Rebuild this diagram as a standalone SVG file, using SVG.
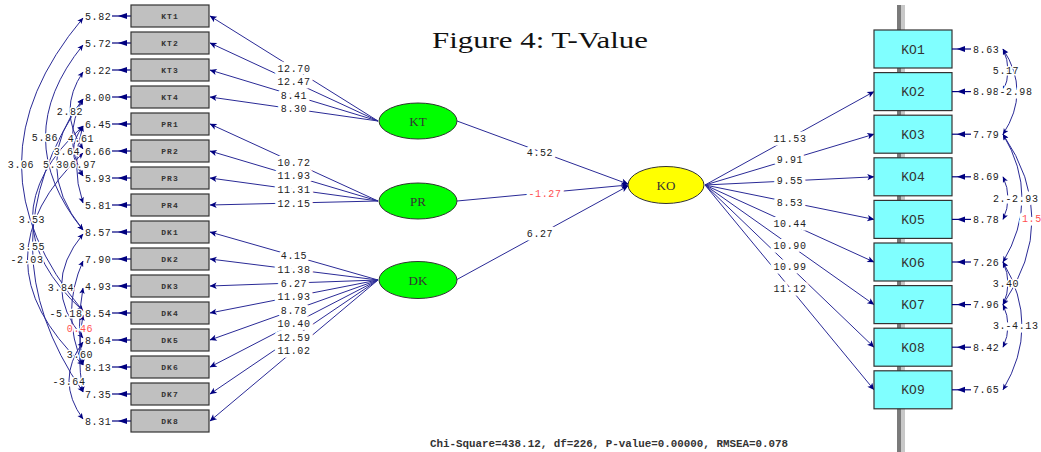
<svg xmlns="http://www.w3.org/2000/svg" width="1041" height="452" viewBox="0 0 1041 452">
  <defs>
    <marker id="arr" viewBox="0 0 10 10" refX="9.5" refY="5" markerWidth="10" markerHeight="7" markerUnits="userSpaceOnUse" orient="auto-start-reverse">
      <path d="M0,0.5 L10,5 L0,9.5 L2.5,5 z" fill="#000080"/>
    </marker>
    <marker id="arrs" viewBox="0 0 10 10" refX="9.5" refY="5" markerWidth="8" markerHeight="6" markerUnits="userSpaceOnUse" orient="auto-start-reverse">
      <path d="M0,0.5 L10,5 L0,9.5 L2.5,5 z" fill="#000080"/>
    </marker>
  </defs>
  <style>
    .bg { fill: #ffffff; }
    .obs rect { fill: #c0c0c0; stroke: #333333; stroke-width: 1.2; }
    .obs text { font-family: "Liberation Mono", monospace; font-size: 8px; font-weight: bold; letter-spacing: 1px; fill: #333333; text-anchor: middle; }
    .ko rect { fill: #80ffff; stroke: #333333; stroke-width: 1.2; }
    .ko text { font-family: "Liberation Mono", monospace; font-size: 13px; fill: #333333; text-anchor: middle; }
    .lat ellipse { stroke: #333333; stroke-width: 1; }
    .lat text { font-family: "Liberation Serif", serif; font-size: 13px; fill: #333333; text-anchor: middle; }
    .path { stroke: #2a2a96; stroke-width: 1; fill: none; }
    .err { stroke: #000080; stroke-width: 1.2; fill: none; }
    .tip { fill: #000080; }
    .num { font-family: "Liberation Mono", monospace; font-size: 10px; letter-spacing: 0.6px; fill: #222222; paint-order: stroke; stroke: #ffffff; stroke-width: 3px; stroke-linejoin: round; }
    .wide { stroke-width: 7px; }
    .mid { text-anchor: middle; }
    .red { fill: #ff5050; }
    .title { font-family: "Liberation Serif", serif; font-size: 24px; fill: #111111; }
    .foot { font-family: "Liberation Mono", monospace; font-size: 10px; font-weight: bold; fill: #333333; }
  </style>

  <rect class="bg" x="0" y="0" width="1041" height="452"/>

  <!-- vertical rail behind the KO indicators -->
  <rect x="897" y="5" width="4" height="447" fill="#7a7a7a"/>
  <rect x="901" y="5" width="4" height="447" fill="#c8c8c8"/>

  <text class="title" x="540" y="48" text-anchor="middle" textLength="216" lengthAdjust="spacingAndGlyphs">Figure 4: T-Value</text>

  <!-- connectors -->
  <g id="connectors">
    <!-- loadings KT -->
    <line class="path" x1="378" y1="121" x2="210" y2="16" marker-end="url(#arr)"/>
    <line class="path" x1="378" y1="121" x2="210" y2="43" marker-end="url(#arr)"/>
    <line class="path" x1="378" y1="121" x2="210" y2="70" marker-end="url(#arr)"/>
    <line class="path" x1="378" y1="121" x2="210" y2="97" marker-end="url(#arr)"/>
    <!-- loadings PR -->
    <line class="path" x1="378" y1="201" x2="210" y2="124" marker-end="url(#arr)"/>
    <line class="path" x1="378" y1="201" x2="210" y2="151" marker-end="url(#arr)"/>
    <line class="path" x1="378" y1="201" x2="210" y2="178" marker-end="url(#arr)"/>
    <line class="path" x1="378" y1="201" x2="210" y2="205" marker-end="url(#arr)"/>
    <!-- loadings DK -->
    <line class="path" x1="378" y1="280" x2="210" y2="232" marker-end="url(#arr)"/>
    <line class="path" x1="378" y1="280" x2="210" y2="259" marker-end="url(#arr)"/>
    <line class="path" x1="378" y1="280" x2="210" y2="286" marker-end="url(#arr)"/>
    <line class="path" x1="378" y1="280" x2="210" y2="313" marker-end="url(#arr)"/>
    <line class="path" x1="378" y1="280" x2="210" y2="340" marker-end="url(#arr)"/>
    <line class="path" x1="378" y1="280" x2="210" y2="367" marker-end="url(#arr)"/>
    <line class="path" x1="378" y1="280" x2="210" y2="394" marker-end="url(#arr)"/>
    <line class="path" x1="378" y1="280" x2="210" y2="421" marker-end="url(#arr)"/>

    <!-- structural paths -->
    <line class="path" x1="457" y1="121" x2="628" y2="184" marker-end="url(#arr)"/>
    <line class="path" x1="457" y1="201" x2="628" y2="185" marker-end="url(#arr)"/>
    <line class="path" x1="456" y1="280" x2="628" y2="186" marker-end="url(#arr)"/>

    <!-- loadings KO -->
    <line class="path" x1="705" y1="185" x2="874" y2="91.6" marker-end="url(#arr)"/>
    <line class="path" x1="705" y1="185" x2="874" y2="134.2" marker-end="url(#arr)"/>
    <line class="path" x1="705" y1="185" x2="874" y2="176.8" marker-end="url(#arr)"/>
    <line class="path" x1="705" y1="185" x2="874" y2="219.4" marker-end="url(#arr)"/>
    <line class="path" x1="705" y1="185" x2="874" y2="262" marker-end="url(#arr)"/>
    <line class="path" x1="705" y1="185" x2="874" y2="304.6" marker-end="url(#arr)"/>
    <line class="path" x1="705" y1="185" x2="874" y2="347.2" marker-end="url(#arr)"/>
    <line class="path" x1="705" y1="185" x2="874" y2="389.8" marker-end="url(#arr)"/>

    <!-- error covariances, left -->
    <path class="path" d="M83,18 Q-40,164.5 83,311" marker-start="url(#arrs)" marker-end="url(#arrs)"/>
    <path class="path" d="M83,45 Q8,137.5 83,230" marker-start="url(#arrs)" marker-end="url(#arrs)"/>
    <path class="path" d="M83,72 Q57,110.5 83,149" marker-start="url(#arrs)" marker-end="url(#arrs)"/>
    <path class="path" d="M83,99 Q62,137.5 83,176" marker-start="url(#arrs)" marker-end="url(#arrs)"/>
    <path class="path" d="M83,126 Q64,151 83,176" marker-start="url(#arrs)" marker-end="url(#arrs)"/>
    <path class="path" d="M83,99 Q30,164.5 83,230" marker-start="url(#arrs)" marker-end="url(#arrs)"/>
    <path class="path" d="M83,126 Q70,164.5 83,203" marker-start="url(#arrs)" marker-end="url(#arrs)"/>
    <path class="path" d="M83,126 Q-18,218.5 83,311" marker-start="url(#arrs)" marker-end="url(#arrs)"/>
    <path class="path" d="M83,99 Q-18,245.5 83,392" marker-start="url(#arrs)" marker-end="url(#arrs)"/>
    <path class="path" d="M83,153 Q-28,259 83,365" marker-start="url(#arrs)" marker-end="url(#arrs)"/>
    <path class="path" d="M83,234 Q40,286 83,338" marker-start="url(#arrs)" marker-end="url(#arrs)"/>
    <path class="path" d="M83,261 Q60,313 83,365" marker-start="url(#arrs)" marker-end="url(#arrs)"/>
    <path class="path" d="M83,288 Q76,326.5 83,365" marker-start="url(#arrs)" marker-end="url(#arrs)"/>
    <path class="path" d="M83,315 Q76,353.5 83,392" marker-start="url(#arrs)" marker-end="url(#arrs)"/>
    <path class="path" d="M83,342 Q55,380.5 83,419" marker-start="url(#arrs)" marker-end="url(#arrs)"/>

    <!-- error covariances, right -->
    <path class="path" d="M1003,49 Q1013,70.3 1003,91.6" marker-start="url(#arrs)" marker-end="url(#arrs)"/>
    <path class="path" d="M1003,49 Q1031,91.6 1003,134.2" marker-start="url(#arrs)" marker-end="url(#arrs)"/>
    <path class="path" d="M1003,176.8 Q1013,198.1 1003,219.4" marker-start="url(#arrs)" marker-end="url(#arrs)"/>
    <path class="path" d="M1003,134.2 Q1041,198.1 1003,262" marker-start="url(#arrs)" marker-end="url(#arrs)"/>
    <path class="path" d="M1003,134.2 Q1061,219.4 1003,304.6" marker-start="url(#arrs)" marker-end="url(#arrs)"/>
    <path class="path" d="M1003,262 Q1013,283.3 1003,304.6" marker-start="url(#arrs)" marker-end="url(#arrs)"/>
    <path class="path" d="M1003,304.6 Q1013,325.9 1003,347.2" marker-start="url(#arrs)" marker-end="url(#arrs)"/>
    <path class="path" d="M1003,262 Q1041,325.9 1003,389.8" marker-start="url(#arrs)" marker-end="url(#arrs)"/>
  </g>

  <!-- error terms, left -->
  <g id="errors-left">
    <g class="err">
      <line x1="112" y1="16" x2="131" y2="16"/><line x1="112" y1="43" x2="131" y2="43"/>
      <line x1="112" y1="70" x2="131" y2="70"/><line x1="112" y1="97" x2="131" y2="97"/>
      <line x1="112" y1="124" x2="131" y2="124"/><line x1="112" y1="151" x2="131" y2="151"/>
      <line x1="112" y1="178" x2="131" y2="178"/><line x1="112" y1="205" x2="131" y2="205"/>
      <line x1="112" y1="232" x2="131" y2="232"/><line x1="112" y1="259" x2="131" y2="259"/>
      <line x1="112" y1="286" x2="131" y2="286"/><line x1="112" y1="313" x2="131" y2="313"/>
      <line x1="112" y1="340" x2="131" y2="340"/><line x1="112" y1="367" x2="131" y2="367"/>
      <line x1="112" y1="394" x2="131" y2="394"/><line x1="112" y1="421" x2="131" y2="421"/>
    </g>
    <g class="tip">
      <path d="M118,16 l9,-3 v6 z"/><path d="M118,43 l9,-3 v6 z"/><path d="M118,70 l9,-3 v6 z"/><path d="M118,97 l9,-3 v6 z"/>
      <path d="M118,124 l9,-3 v6 z"/><path d="M118,151 l9,-3 v6 z"/><path d="M118,178 l9,-3 v6 z"/><path d="M118,205 l9,-3 v6 z"/>
      <path d="M118,232 l9,-3 v6 z"/><path d="M118,259 l9,-3 v6 z"/><path d="M118,286 l9,-3 v6 z"/><path d="M118,313 l9,-3 v6 z"/>
      <path d="M118,340 l9,-3 v6 z"/><path d="M118,367 l9,-3 v6 z"/><path d="M118,394 l9,-3 v6 z"/><path d="M118,421 l9,-3 v6 z"/>
    </g>
    <g class="num">
      <text x="85" y="19.5">5.82</text><text x="85" y="46.5">5.72</text>
      <text x="85" y="73.5">8.22</text><text x="85" y="100.5">8.00</text>
      <text x="85" y="127.5">6.45</text><text x="85" y="154.5">6.66</text>
      <text x="85" y="181.5">5.93</text><text x="85" y="208.5">5.81</text>
      <text x="85" y="235.5">8.57</text><text x="85" y="262.5">7.90</text>
      <text x="85" y="289.5">4.93</text><text x="85" y="316.5">8.54</text>
      <text x="85" y="343.5">8.64</text><text x="85" y="370.5">8.13</text>
      <text x="85" y="397.5">7.35</text><text x="85" y="424.5">8.31</text>
    </g>
  </g>

  <!-- covariance labels, left -->
  <g id="cov-left" class="num">
    <text class="mid" x="70" y="114.5">2.82</text>
    <text class="mid" x="45" y="140.5">5.86</text>
    <text class="mid" x="81" y="141.5">4.61</text>
    <text class="mid" x="67" y="154.5">3.64</text>
    <text class="mid" x="21" y="167.5">3.06</text>
    <text x="43" y="167.5">5.30</text>
    <text x="70" y="167.5">6.97</text>
    <text class="mid" x="32" y="222.5">3.53</text>
    <text class="mid" x="32" y="249.5">3.55</text>
    <text class="mid" x="27" y="262.5">-2.03</text>
    <text class="mid" x="61" y="290.5">3.84</text>
    <text class="mid" x="66" y="316.5">-5.18</text>
    <text class="mid red" x="80" y="331.5">0.46</text>
    <text class="mid" x="80" y="357.5">3.60</text>
    <text class="mid" x="69" y="384.5">-3.64</text>
  </g>

  <!-- observed indicators, left -->
  <g id="KT1" class="obs"><rect x="131" y="5" width="78" height="22"/><text x="170" y="19">KT1</text></g>
  <g id="KT2" class="obs"><rect x="131" y="32" width="78" height="22"/><text x="170" y="46">KT2</text></g>
  <g id="KT3" class="obs"><rect x="131" y="59" width="78" height="22"/><text x="170" y="73">KT3</text></g>
  <g id="KT4" class="obs"><rect x="131" y="86" width="78" height="22"/><text x="170" y="100">KT4</text></g>
  <g id="PR1" class="obs"><rect x="131" y="113" width="78" height="22"/><text x="170" y="127">PR1</text></g>
  <g id="PR2" class="obs"><rect x="131" y="140" width="78" height="22"/><text x="170" y="154">PR2</text></g>
  <g id="PR3" class="obs"><rect x="131" y="167" width="78" height="22"/><text x="170" y="181">PR3</text></g>
  <g id="PR4" class="obs"><rect x="131" y="194" width="78" height="22"/><text x="170" y="208">PR4</text></g>
  <g id="DK1" class="obs"><rect x="131" y="221" width="78" height="22"/><text x="170" y="235">DK1</text></g>
  <g id="DK2" class="obs"><rect x="131" y="248" width="78" height="22"/><text x="170" y="262">DK2</text></g>
  <g id="DK3" class="obs"><rect x="131" y="275" width="78" height="22"/><text x="170" y="289">DK3</text></g>
  <g id="DK4" class="obs"><rect x="131" y="302" width="78" height="22"/><text x="170" y="316">DK4</text></g>
  <g id="DK5" class="obs"><rect x="131" y="329" width="78" height="22"/><text x="170" y="343">DK5</text></g>
  <g id="DK6" class="obs"><rect x="131" y="356" width="78" height="22"/><text x="170" y="370">DK6</text></g>
  <g id="DK7" class="obs"><rect x="131" y="383" width="78" height="22"/><text x="170" y="397">DK7</text></g>
  <g id="DK8" class="obs"><rect x="131" y="410" width="78" height="22"/><text x="170" y="424">DK8</text></g>

  <!-- path labels -->
  <g id="path-labels" class="num wide">
    <text class="mid" x="294" y="71.7">12.70</text>
    <text class="mid" x="294" y="85.3">12.47</text>
    <text class="mid" x="294" y="98.8">8.41</text>
    <text class="mid" x="294" y="112.4">8.30</text>
    <text class="mid" x="294" y="165.8">10.72</text>
    <text class="mid" x="294" y="179.4">11.93</text>
    <text class="mid" x="294" y="192.9">11.31</text>
    <text class="mid" x="294" y="206.5">12.15</text>
    <text class="mid" x="294" y="259.4">4.15</text>
    <text class="mid" x="294" y="272.9">11.38</text>
    <text class="mid" x="294" y="286.5">6.27</text>
    <text class="mid" x="294" y="300.1">11.93</text>
    <text class="mid" x="294" y="313.7">8.78</text>
    <text class="mid" x="294" y="327.3">10.40</text>
    <text class="mid" x="294" y="340.8">12.59</text>
    <text class="mid" x="294" y="354.4">11.02</text>

    <text class="mid" x="540" y="156">4.52</text>
    <text class="mid red" x="545" y="196.5">-1.27</text>
    <text class="mid" x="540" y="237">6.27</text>

    <text class="mid" x="790" y="141.5">11.53</text>
    <text class="mid" x="790" y="162.9">9.91</text>
    <text class="mid" x="790" y="184.4">9.55</text>
    <text class="mid" x="790" y="205.8">8.53</text>
    <text class="mid" x="790" y="227.2">10.44</text>
    <text class="mid" x="790" y="248.7">10.90</text>
    <text class="mid" x="790" y="270.1">10.99</text>
    <text class="mid" x="790" y="291.5">11.12</text>
  </g>

  <!-- latent variables -->
  <g id="KT" class="lat"><ellipse cx="418" cy="121" rx="39" ry="18" fill="#00ff00"/><text x="418" y="125.5">KT</text></g>
  <g id="PR" class="lat"><ellipse cx="418" cy="201" rx="39" ry="18" fill="#00ff00"/><text x="418" y="205.5">PR</text></g>
  <g id="DK" class="lat"><ellipse cx="418" cy="280" rx="39" ry="18.5" fill="#00ff00"/><text x="418" y="284.5">DK</text></g>
  <g id="KO" class="lat"><ellipse cx="666" cy="185" rx="38" ry="18.5" fill="#ffff00"/><text x="666" y="189.5">KO</text></g>

  <!-- observed indicators, right -->
  <g id="KO1" class="ko"><rect x="874" y="30" width="78" height="38"/><text x="913" y="53.5">KO1</text></g>
  <g id="KO2" class="ko"><rect x="874" y="72.6" width="78" height="38"/><text x="913" y="96.1">KO2</text></g>
  <g id="KO3" class="ko"><rect x="874" y="115.2" width="78" height="38"/><text x="913" y="138.7">KO3</text></g>
  <g id="KO4" class="ko"><rect x="874" y="157.8" width="78" height="38"/><text x="913" y="181.3">KO4</text></g>
  <g id="KO5" class="ko"><rect x="874" y="200.4" width="78" height="38"/><text x="913" y="223.9">KO5</text></g>
  <g id="KO6" class="ko"><rect x="874" y="243" width="78" height="38"/><text x="913" y="266.5">KO6</text></g>
  <g id="KO7" class="ko"><rect x="874" y="285.6" width="78" height="38"/><text x="913" y="309.1">KO7</text></g>
  <g id="KO8" class="ko"><rect x="874" y="328.2" width="78" height="38"/><text x="913" y="351.7">KO8</text></g>
  <g id="KO9" class="ko"><rect x="874" y="370.8" width="78" height="38"/><text x="913" y="394.3">KO9</text></g>

  <!-- error terms, right -->
  <g id="errors-right">
    <g class="err">
      <line x1="952" y1="49" x2="971" y2="49"/><line x1="952" y1="91.6" x2="971" y2="91.6"/>
      <line x1="952" y1="134.2" x2="971" y2="134.2"/><line x1="952" y1="176.8" x2="971" y2="176.8"/>
      <line x1="952" y1="219.4" x2="971" y2="219.4"/><line x1="952" y1="262" x2="971" y2="262"/>
      <line x1="952" y1="304.6" x2="971" y2="304.6"/><line x1="952" y1="347.2" x2="971" y2="347.2"/>
      <line x1="952" y1="389.8" x2="971" y2="389.8"/>
    </g>
    <g class="tip">
      <path d="M957,49 l8,-3 v6 z"/><path d="M957,91.6 l8,-3 v6 z"/><path d="M957,134.2 l8,-3 v6 z"/>
      <path d="M957,176.8 l8,-3 v6 z"/><path d="M957,219.4 l8,-3 v6 z"/><path d="M957,262 l8,-3 v6 z"/>
      <path d="M957,304.6 l8,-3 v6 z"/><path d="M957,347.2 l8,-3 v6 z"/><path d="M957,389.8 l8,-3 v6 z"/>
    </g>
    <g class="num">
      <text x="973" y="52.5">8.63</text><text x="973" y="95.1">8.98</text>
      <text x="973" y="137.7">7.79</text><text x="973" y="180.3">8.69</text>
      <text x="973" y="222.9">8.78</text><text x="973" y="265.5">7.26</text>
      <text x="973" y="308.1">7.96</text><text x="973" y="350.7">8.42</text>
      <text x="973" y="393.3">7.65</text>
    </g>
  </g>

  <!-- covariance labels, right -->
  <g id="cov-right" class="num">
    <text class="mid" x="1006" y="73.5">5.17</text>
    <text class="mid wide" x="1016" y="95.1">-2.98</text>
    <text x="993" y="201.6">2.</text>
    <text class="mid wide" x="1022" y="201.6">-2.93</text>
    <text class="red wide" x="1022" y="222">1.5</text>
    <text class="mid" x="1006" y="286.8">3.40</text>
    <text x="993" y="329.4">3.</text>
    <text class="mid wide" x="1022" y="329.4">-4.13</text>
  </g>

  <text class="foot" x="430" y="447" textLength="358" lengthAdjust="spacingAndGlyphs">Chi-Square=438.12, df=226, P-value=0.00000, RMSEA=0.078</text>
</svg>
